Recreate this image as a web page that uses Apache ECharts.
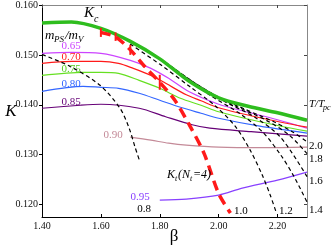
<!DOCTYPE html>
<html><head><meta charset="utf-8">
<script src="https://cdn.jsdelivr.net/npm/echarts@6/dist/echarts.min.js"></script>
<style>html,body{margin:0;padding:0;background:#fff}#c{width:332px;height:248px}</style>
</head><body><div id="c"></div>
<script>
const xTicks = [1.4, 1.6, 1.8, 2.0, 2.2];
const yTicks = [0.12, 0.13, 0.14, 0.15, 0.16];

const kc = [[1.40,0.1564],[1.50,0.1566],[1.60,0.1553],[1.70,0.1527],[1.80,0.1492],[1.90,0.1447],[2.00,0.1414],[2.10,0.1397],[2.20,0.1384],[2.30,0.1369]];
const kt = [[1.60,0.1545],[1.65,0.1536],[1.70,0.1510],[1.75,0.1476],[1.80,0.1445],[1.85,0.1410],[1.90,0.1360],[1.95,0.1303],[2.00,0.1222],[2.04,0.1183]];
const ktErr = [[1.60,0.1536,0.1554],[1.65,0.1528,0.1545],[1.70,0.1500,0.1520],[1.80,0.1430,0.1460]];

const m065 = [[1.40,0.1503],[1.50,0.1505],[1.60,0.1503],[1.70,0.1489],[1.77,0.1473],[1.83,0.1453],[1.90,0.1426],[2.00,0.1401],[2.10,0.1385],[2.20,0.1370],[2.30,0.1353]];
const m070 = [[1.40,0.1483],[1.50,0.1487],[1.60,0.1487],[1.66,0.1483],[1.71,0.1473],[1.77,0.1459],[1.82,0.1443],[1.89,0.1420],[1.94,0.1408],[2.00,0.1394],[2.14,0.1374],[2.30,0.1355]];
const m075 = [[1.40,0.1459],[1.54,0.1465],[1.60,0.1465],[1.66,0.1463],[1.73,0.1449],[1.80,0.1433],[1.87,0.1413],[1.94,0.1399],[2.00,0.1386],[2.14,0.1366],[2.30,0.1347]];
const m080 = [[1.40,0.1427],[1.54,0.1437],[1.60,0.1435],[1.66,0.1433],[1.73,0.1423],[1.80,0.1409],[1.87,0.1395],[1.94,0.1383],[2.00,0.1373],[2.14,0.1357],[2.30,0.1343]];
const m085 = [[1.40,0.1393],[1.53,0.1399],[1.60,0.1401],[1.73,0.1393],[1.82,0.1376],[1.91,0.1360],[1.97,0.1353],[2.11,0.1346],[2.30,0.1337]];
const m090 = [[1.70,0.1335],[1.77,0.1329],[1.83,0.1323],[1.89,0.1319],[2.00,0.1315],[2.15,0.1314],[2.30,0.1315]];
const m095 = [[1.80,0.1209],[1.89,0.1211],[2.00,0.1219],[2.08,0.1233],[2.20,0.1249],[2.30,0.1265]];

const t08 = [[1.40,0.1501],[1.495,0.1477],[1.597,0.1439],[1.665,0.1393],[1.696,0.1353],[1.716,0.1315],[1.733,0.1285]];
const t12 = [[1.699,0.1522],[1.801,0.1481],[1.903,0.1436],[1.988,0.1398],[2.056,0.1357],[2.107,0.1309],[2.148,0.1259],[2.175,0.1219],[2.195,0.1185]];
const t14 = [[1.767,0.1506],[1.869,0.1462],[1.971,0.1419],[2.073,0.1382],[2.150,0.1345],[2.210,0.1300],[2.255,0.1257],[2.30,0.1205]];
const t16 = [[1.818,0.1486],[1.920,0.1443],[2.022,0.1406],[2.123,0.1375],[2.210,0.1335],[2.30,0.1256]];
const t18 = [[1.852,0.1471],[1.954,0.1430],[2.056,0.1398],[2.158,0.1370],[2.240,0.1339],[2.30,0.1302]];
const t20 = [[1.886,0.1456],[1.988,0.1419],[2.090,0.1391],[2.191,0.1365],[2.250,0.1346],[2.30,0.1326]];

const SERIF = "'Liberation Serif','Times New Roman',serif";
const chart = echarts.init(document.getElementById('c'), null, {renderer: 'canvas'});

function line(data, color, width, type, z) {
  return {type: 'line', data: data, smooth: 0.3, showSymbol: false, silent: true, z: z || 2,
    lineStyle: {color: color, width: width, type: type || 'solid'}};
}
function txt(x, y, s, size, color, italic, align) {
  return {type: 'text', x: x, y: y, silent: true, z: 100,
    style: {text: s, fill: color || '#000', font: (italic ? 'italic ' : '') + size + 'px ' + SERIF,
      align: align || 'left', verticalAlign: 'middle'}};
}

const dash = [4, 3];
chart.setOption({
  animation: false,
  grid: {left: 42, top: 5, width: 265, height: 212},
  xAxis: [
    {type: 'value', min: 1.4, max: 2.3, position: 'bottom', splitLine: {show: false},
     axisLine: {lineStyle: {color: '#000', width: 1}},
     axisTick: {inside: true, length: 3, customValues: xTicks, lineStyle: {color: '#000'}},
     axisLabel: {customValues: xTicks, formatter: v => v.toFixed(2), fontFamily: SERIF, fontSize: 10, color: '#111', margin: 4}},
    {type: 'value', min: 1.4, max: 2.3, position: 'top', splitLine: {show: false},
     axisLine: {lineStyle: {color: '#888', width: 1}},
     axisTick: {inside: true, length: 3, customValues: xTicks, lineStyle: {color: '#444'}},
     axisLabel: {show: false}}
  ],
  yAxis: [
    {type: 'value', min: 0.1175, max: 0.16, position: 'left', splitLine: {show: false},
     axisLine: {lineStyle: {color: '#000', width: 1}},
     axisTick: {inside: false, length: 3, customValues: yTicks, lineStyle: {color: '#000'}},
     axisLabel: {customValues: yTicks, formatter: v => v.toFixed(3), fontFamily: SERIF, fontSize: 10, color: '#111', margin: 4}},
    {type: 'value', min: 0.1175, max: 0.16, position: 'right', splitLine: {show: false},
     axisLine: {lineStyle: {color: '#888', width: 1}},
     axisTick: {inside: true, length: 3, customValues: yTicks, lineStyle: {color: '#444'}},
     axisLabel: {show: false}}
  ],
  series: [
    line(m065, '#cc44ff', 1.2),
    line(m070, '#ff1a1a', 1.2),
    line(m075, '#66e022', 1.2),
    line(m080, '#3366ff', 1.2),
    line(m085, '#660077', 1.2),
    line(m090, '#c48a98', 1.2),
    line(m095, '#8840ff', 1.2),
    line(t08, '#000', 1.2, dash, 3),
    line(t12, '#000', 1.2, dash, 3),
    line(t14, '#000', 1.2, dash, 3),
    line(t16, '#000', 1.2, dash, 3),
    line(t18, '#000', 1.2, dash, 3),
    line(t20, '#000', 1.2, dash, 3),
    line(kc, '#2ebd1e', 3.5, 'solid', 4),
    line(kt, '#ff1a1a', 3.5, [10, 6], 5),
    {type: 'custom', data: ktErr, silent: true, z: 6, encode: {x: 0, y: [1, 2]},
     renderItem: function (params, api) {
       const a = api.coord([api.value(0), api.value(1)]);
       const b = api.coord([api.value(0), api.value(2)]);
       return {type: 'line', shape: {x1: a[0], y1: a[1], x2: b[0], y2: b[1]}, style: {stroke: '#ff1a1a', lineWidth: 2}};
     }}
  ],
  graphic: [
    txt(11, 112, 'K', 17, '#000', true, 'center'),
    txt(174, 237, 'β', 17, '#000', false, 'center'),
    txt(84, 13, 'K', 15, '#000', true),
    txt(94, 19, 'c', 10, '#000', true),
    txt(45, 36, 'm', 13, '#000', true),
    txt(54, 40, 'PS', 9, '#000', true),
    txt(65, 36, '/m', 13, '#000', true),
    txt(78, 40, 'V', 9, '#000', true),
    txt(71, 46, '0.65', 11, '#cc44ff', false, 'center'),
    txt(71, 57, '0.70', 11, '#ff1a1a', false, 'center'),
    txt(71, 69, '0.75', 11, '#55d022', false, 'center'),
    txt(71, 84, '0.80', 11, '#3366ff', false, 'center'),
    txt(71, 102, '0.85', 11, '#660077', false, 'center'),
    txt(113, 135, '0.90', 11, '#c48a98', false, 'center'),
    txt(140, 197, '0.95', 11, '#8840ff', false, 'center'),
    txt(167, 175, 'K', 12, '#000', true),
    txt(175, 179, 't', 8, '#000', true),
    txt(178, 175, '(N', 12, '#000', true),
    txt(190, 179, 't', 8, '#000', true),
    txt(193, 175, '=4)', 12, '#000', true),
    txt(144, 209, '0.8', 11, '#000', false, 'center'),
    txt(234, 211, '1.0', 11, '#000'),
    txt(279, 211, '1.2', 11, '#000'),
    txt(309, 210, '1.4', 11, '#000'),
    txt(309, 181, '1.6', 11, '#000'),
    txt(309, 159, '1.8', 11, '#000'),
    txt(309, 146, '2.0', 11, '#000'),
    txt(309, 104, 'T/T', 11, '#000', true),
    txt(323, 108, 'pc', 8, '#000', true)
  ]
});
</script></body></html>
